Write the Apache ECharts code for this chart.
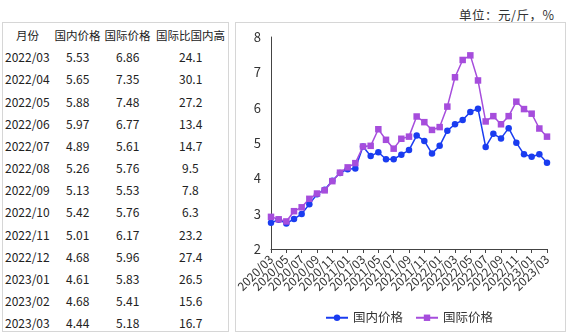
<!DOCTYPE html>
<html>
<head>
<meta charset="utf-8">
<script src="https://cdn.jsdelivr.net/npm/echarts@6/dist/echarts.min.js"></script>
<style>
  html, body { margin: 0; padding: 0; background: #fff; }
  body { width: 569px; height: 335px; position: relative; overflow: hidden;
         font-family: "Noto Sans CJK SC", "Noto Sans", sans-serif; color: #222; }
  #unit { position: absolute; left: 459px; top: 5px; font-size: 12.5px; color: #333; letter-spacing: 0.5px; }
  #tbox { position: absolute; left: 2px; top: 22px; width: 227px; height: 310px;
          border: 1px solid #d6d6d6; box-sizing: border-box; }
  .cell { position: absolute; font-size: 12px; line-height: 16px; height: 16px; white-space: nowrap; }
  .cell.head { font-size: 11.5px; }
  #chartbox { position: absolute; left: 235px; top: 22px; width: 331px; height: 310px;
              border: 1px solid #d6d6d6; box-sizing: border-box; }
  #chart { position: absolute; left: 0; top: 0; width: 569px; height: 335px; }
</style>
</head>
<body>
<div id="unit">单位：元/斤，%</div>
<div id="tbox"></div>
<div id="chartbox"></div>
<div id="chart"></div>
<script>
// Monthly categories, 2020/03 – 2023/03
const months = [
  '2020/03','2020/04','2020/05','2020/06','2020/07','2020/08','2020/09','2020/10','2020/11','2020/12',
  '2021/01','2021/02','2021/03','2021/04','2021/05','2021/06','2021/07','2021/08','2021/09','2021/10',
  '2021/11','2021/12','2022/01','2022/02','2022/03','2022/04','2022/05','2022/06','2022/07','2022/08',
  '2022/09','2022/10','2022/11','2022/12','2023/01','2023/02','2023/03'
];
// 国内价格 (元/斤)
const domestic = [
  2.74, 2.83, 2.72, 2.85, 2.99, 3.27, 3.55, 3.68, 3.93, 4.15,
  4.26, 4.28, 4.90, 4.63, 4.74, 4.54, 4.54, 4.67, 4.80, 5.21,
  5.06, 4.70, 4.92, 5.35, 5.53, 5.65, 5.88, 5.97, 4.89, 5.26,
  5.13, 5.42, 5.01, 4.68, 4.61, 4.68, 4.44
];
// 国际价格 (元/斤)
const international = [
  2.91, 2.84, 2.78, 3.07, 3.18, 3.42, 3.57, 3.66, 3.92, 4.16,
  4.31, 4.43, 4.90, 4.92, 5.39, 5.09, 4.84, 5.12, 5.18, 5.75,
  5.59, 5.37, 5.45, 6.03, 6.86, 7.35, 7.48, 6.77, 5.61, 5.76,
  5.53, 5.76, 6.17, 5.96, 5.83, 5.41, 5.18
];
// 国际比国内高 (%) for the last 13 months listed in the table
const premium = [24.1, 30.1, 27.2, 13.4, 14.7, 9.5, 7.8, 6.3, 23.2, 27.4, 26.5, 15.6, 16.7];
const tableHeader = ['月份', '国内价格', '国际价格', '国际比国内高'];
const tableStart = months.length - premium.length;

// Summary table: column centres and row pitch inside the box
const tbox = document.getElementById('tbox');
const colCenter = [24.5, 74.5, 124.5, 187.5];
const rowTop = 4, rowStep = 22.17;
function addCell(text, col, row, alignLeft, head) {
  const d = document.createElement('div');
  d.className = head ? 'cell head' : 'cell';
  d.textContent = text;
  d.style.top = (rowTop + row * rowStep) + 'px';
  tbox.appendChild(d);
  if (alignLeft) {
    d.style.left = '2px';
  } else {
    d.style.left = (colCenter[col] - d.offsetWidth / 2) + 'px';
  }
}
tableHeader.forEach((h, c) => addCell(h, c, 0, false, true));
for (let k = 0; k < premium.length; k++) {
  const i = tableStart + k;
  addCell(months[i], 0, k + 1, true);
  addCell(domestic[i].toFixed(2), 1, k + 1, false);
  addCell(international[i].toFixed(2), 2, k + 1, false);
  addCell(premium[k].toFixed(1), 3, k + 1, false);
}

// Price trend chart
const chart = echarts.init(document.getElementById('chart'), null, { renderer: 'canvas' });
const BLUE = '#1a3cf0';
const PURPLE = '#a64ddc';
chart.setOption({
  animation: false,
  textStyle: { fontFamily: '"Noto Sans CJK SC", "Noto Sans", sans-serif' },
  grid: { left: 271, right: 22, top: 37, bottom: 86, containLabel: false },
  legend: {
    bottom: 6, left: 320, itemWidth: 22, itemHeight: 8, itemGap: 12,
    textStyle: { fontSize: 12.5, color: '#333' },
    data: ['国内价格', '国际价格']
  },
  xAxis: {
    type: 'category', data: months, boundaryGap: false,
    axisLine: { lineStyle: { color: '#444', width: 1 } },
    axisTick: { show: true, interval: 1, length: 4, lineStyle: { color: '#444' } },
    axisLabel: {
      interval: 0, rotate: 45, fontSize: 12, color: '#333', margin: 8,
      hideOverlap: false,
      // label every other month
      formatter: (v, i) => (i % 2 === 0 ? v : '')
    }
  },
  yAxis: {
    type: 'value', min: 2, max: 8, interval: 1,
    axisLine: { show: true, lineStyle: { color: '#444', width: 1 } },
    axisTick: { show: false },
    splitLine: { show: false },
    axisLabel: { fontSize: 13, color: '#333', margin: 10 }
  },
  series: [
    {
      name: '国内价格', type: 'line', data: domestic,
      symbol: 'circle', symbolSize: 6.5, showSymbol: true, showAllSymbol: true,
      lineStyle: { color: BLUE, width: 1.5 }, itemStyle: { color: BLUE }
    },
    {
      name: '国际价格', type: 'line', data: international,
      symbol: 'rect', symbolSize: 6.5, showSymbol: true, showAllSymbol: true,
      lineStyle: { color: PURPLE, width: 1.5 }, itemStyle: { color: PURPLE }
    }
  ]
});
</script>
</body>
</html>
